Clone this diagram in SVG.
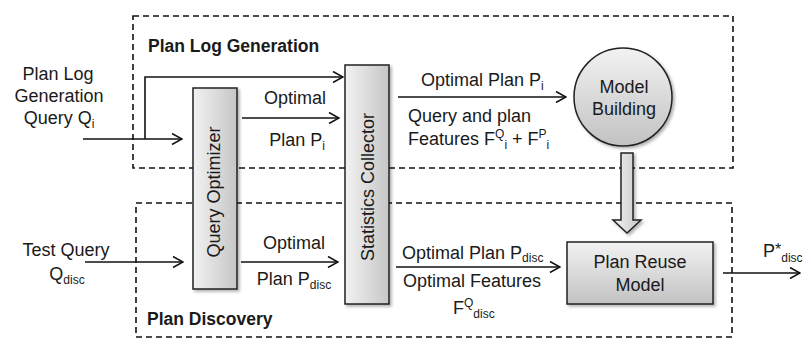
<svg xmlns="http://www.w3.org/2000/svg" width="805" height="340" viewBox="0 0 805 340">
<style>
text{font-family:"Liberation Sans",Arial,sans-serif;font-size:18px;fill:#1a1a1a}
.b{font-weight:bold;font-size:17.5px}
.m{text-anchor:middle}
.s{font-size:12px}
.dash{fill:none;stroke:#111;stroke-width:1.6;stroke-dasharray:6 4}
.node{stroke:#222;stroke-width:1.5}
.conn{fill:none;stroke:#111;stroke-width:1.6;marker-end:url(#arr)}
</style>
<defs>
<linearGradient id="gh" x1="0" y1="0" x2="1" y2="0"><stop offset="0" stop-color="#f2f2f2"/><stop offset="1" stop-color="#c6c6c6"/></linearGradient>
<linearGradient id="gv" x1="0" y1="0" x2="0" y2="1"><stop offset="0" stop-color="#f2f2f2"/><stop offset="1" stop-color="#c2c2c2"/></linearGradient>
<filter id="sh" x="-20%" y="-20%" width="140%" height="140%"><feDropShadow dx="2" dy="2" stdDeviation="1.5" flood-color="#000" flood-opacity="0.3"/></filter>
<marker id="arr" viewBox="0 0 12 12" refX="11" refY="6" markerWidth="12" markerHeight="12" markerUnits="userSpaceOnUse" orient="auto"><path d="M1,0.5 L11,6 L1,11.5" fill="none" stroke="#111" stroke-width="1.6"/></marker>
</defs>
<g id="region-plan-log-generation">
<rect class="dash" x="133" y="16" width="600" height="152"/>
<text class="b" x="148" y="52">Plan Log Generation</text>
</g>
<g id="region-plan-discovery">
<rect class="dash" x="136" y="203" width="596" height="134"/>
<text class="b" x="147" y="325">Plan Discovery</text>
</g>
<g id="connectors">
<path class="conn" d="M83,139 L182,139"/>
<path class="conn" d="M145,139 L145,77 L343,77"/>
<path class="conn" d="M242,118 L339,118"/>
<path class="conn" d="M398,97 L566,97"/>
<path class="conn" d="M85,262 L183,262"/>
<path class="conn" d="M241,262 L338,262"/>
<path class="conn" d="M396,267 L560,267"/>
<path class="conn" d="M723,273 L800,273"/>
<path id="block-arrow" class="node" fill="url(#gh)" filter="url(#sh)" d="M621,153 L633,153 L633,220 L641,220 L627,233 L613,220 L621,220 Z"/>
</g>
<g id="labels">
<text class="m" x="58" y="80">Plan Log</text>
<text class="m" x="59" y="102">Generation</text>
<text class="m" x="59" y="124">Query Q<tspan class="s" dy="4">i</tspan></text>
<text class="m" x="295" y="104">Optimal</text>
<text class="m" x="297" y="146">Plan P<tspan class="s" dy="4">i</tspan></text>
<text x="421" y="86">Optimal Plan P<tspan class="s" dy="4">i</tspan></text>
<text x="408" y="122">Query and plan</text>
<text x="408" y="145">Features F<tspan class="s" dy="-7">Q</tspan><tspan class="s" dy="11">i</tspan><tspan dy="-4"> + F</tspan><tspan class="s" dy="-7">P</tspan><tspan class="s" dy="11">i</tspan></text>
<text class="m" x="66" y="256">Test Query</text>
<text class="m" x="67" y="280">Q<tspan class="s" dy="4">disc</tspan></text>
<text class="m" x="294" y="249">Optimal</text>
<text class="m" x="294" y="285">Plan P<tspan class="s" dy="4">disc</tspan></text>
<text x="402" y="259">Optimal Plan P<tspan class="s" dy="3">disc</tspan></text>
<text x="403" y="287">Optimal Features</text>
<text x="453" y="314">F<tspan class="s" dy="-7">Q</tspan><tspan class="s" dy="11">disc</tspan></text>
<text x="763" y="257">P<tspan font-size="16" dy="-2">*</tspan><tspan class="s" dy="7">disc</tspan></text>
</g>
<g id="query-optimizer">
<rect class="node" fill="url(#gh)" filter="url(#sh)" x="193" y="88" width="44" height="201"/>
<text class="m" transform="translate(220,192) rotate(-90)">Query Optimizer</text>
</g>
<g id="statistics-collector">
<rect class="node" fill="url(#gh)" filter="url(#sh)" x="345" y="65" width="44" height="239"/>
<text class="m" transform="translate(374,187) rotate(-90)">Statistics Collector</text>
</g>
<g id="model-building">
<circle class="node" fill="url(#gv)" filter="url(#sh)" cx="623" cy="97" r="49"/>
<text class="m" x="624" y="93">Model</text>
<text class="m" x="624" y="115">Building</text>
</g>
<g id="plan-reuse-model">
<rect class="node" fill="url(#gv)" filter="url(#sh)" x="567" y="242" width="146" height="62"/>
<text class="m" x="640" y="268">Plan Reuse</text>
<text class="m" x="640" y="291">Model</text>
</g>
</svg>
